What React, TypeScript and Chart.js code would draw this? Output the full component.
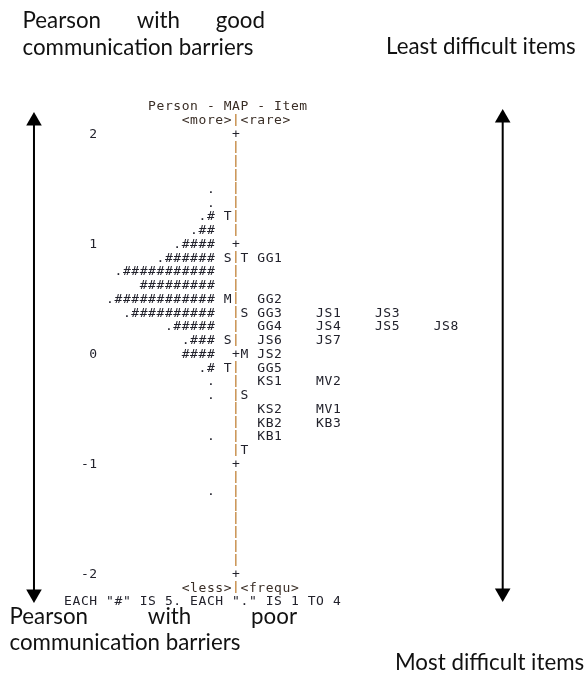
import React, { useEffect, useRef } from "react";
import { Chart, registerables } from "chart.js";

Chart.register(...registerables);

// ---------- data ----------
const axisTicks = [2, 1, 0, -1, -2];
const axisTickLabels = ["2", "1", "0", "-1", "-2"];

const personMeasures = [1.5, 1.375, 1.25, 1.125, 1.0, 0.875, 0.75, 0.625, 0.5, 0.375, 0.25, 0.125, 0, -0.125, -0.25, -0.375, -0.75, -1.25];
const personHashCounts = [0, 0, 1, 2, 4, 6, 11, 9, 12, 10, 5, 3, 4, 1, 0, 0, 0, 0];
const personDotFlags = [1, 1, 1, 1, 1, 1, 1, 0, 1, 1, 1, 1, 0, 1, 1, 1, 1, 1];

const personMarkerLabels = ["T", "S", "M", "S", "T"];
const personMarkerMeasures = [1.25, 0.875, 0.5, 0.125, -0.125];
const itemMarkerLabels = ["T", "S", "M", "S", "T"];
const itemMarkerMeasures = [0.875, 0.375, 0, -0.375, -0.875];

const itemNames = ["GG1", "GG2", "GG3", "JS1", "JS3", "GG4", "JS4", "JS5", "JS8", "JS6", "JS7", "JS2", "GG5", "KS1", "MV2", "KS2", "MV1", "KB2", "KB3", "KB1"];
const itemMeasures = [0.875, 0.5, 0.375, 0.375, 0.375, 0.25, 0.25, 0.25, 0.25, 0.125, 0.125, 0, -0.125, -0.25, -0.25, -0.5, -0.5, -0.625, -0.625, -0.75];

const mapTitle = "Person - MAP - Item";
const topScaleLabels = ["<more>", "<rare>"];
const bottomScaleLabels = ["<less>", "<frequ>"];
const footnote = 'EACH "#" IS 5. EACH "." IS 1 TO 4';

const topLeftNote = ["Pearson", "with", "good"];
const bottomLeftNote = ["Pearson", "with", "poor"];
const noteSecondLine = "communication barriers";
const topRightNote = "Least difficult items";
const bottomRightNote = "Most difficult items";

// ---------- layout / style ----------
const MEASURE_MIN = -2;
const MEASURE_MAX = 2;
const ROW = 0.125;
const X_MIN = -7.095;
const X_MAX = 62.786;
const Y_MAX = 3.212;
const Y_MIN = -2.952;

const PIPE_COL = 21;
const PERSON_END_COL = 18;
const LEFT_MARK_COL = 20;
const RIGHT_MARK_COL = 22;
const ITEM_COL0 = 24;
const ITEM_PITCH = 7;
const TICK_END_COL = 4;
const TITLE_COL = 11;
const SCALE_LABEL_COL = 15;
const FOOT_COL = 1;

const MONO = "13px 'DejaVu Sans Mono', monospace";
const TEXT_COLOR = "#22222c";
const TITLE_COLOR = "#3a2e26";
const PIPE_COLOR = "#cf985a";
const PIPE_FRINGE = "#dcc3a2";
const NOTE_FAMILY = "Lato, 'Open Sans', sans-serif";

const wrightMapPlugin = {
  id: "wrightMap",
  afterDatasetsDraw(chart: any) {
    const ctx: CanvasRenderingContext2D = chart.ctx;
    const xs = chart.scales.x;
    const ys = chart.scales.y;
    const rowPx = Math.abs(ys.getPixelForValue(0) - ys.getPixelForValue(ROW));
    const baseOff = 4.6;

    ctx.save();
    ctx.font = MONO;
    ctx.textAlign = "center";
    ctx.textBaseline = "alphabetic";
    ctx.fillStyle = TEXT_COLOR;

    const drawStr = (s: string, startCol: number, v: number, color = TEXT_COLOR) => {
      const y = ys.getPixelForValue(v) + baseOff;
      ctx.fillStyle = color;
      for (let i = 0; i < s.length; i++) {
        if (s[i] === " ") continue;
        ctx.fillText(s[i], xs.getPixelForValue(startCol + i), y);
      }
      ctx.fillStyle = TEXT_COLOR;
    };
    const drawPipe = (v: number) => {
      const x = Math.round(xs.getPixelForValue(PIPE_COL)) - 1;
      const yc = ys.getPixelForValue(v);
      const top = Math.round(yc - rowPx / 2 + 1);
      const h = Math.round(rowPx - 2);
      ctx.fillStyle = PIPE_COLOR;
      ctx.fillRect(x, top, 1, h);
      ctx.fillStyle = PIPE_FRINGE;
      ctx.fillRect(x + 1, top, 1, h);
      ctx.fillStyle = TEXT_COLOR;
    };

    // vertical ruler
    const nRows = Math.round((MEASURE_MAX - MEASURE_MIN) / ROW);
    for (let k = 0; k <= nRows; k++) {
      const v = MEASURE_MIN + k * ROW;
      if (axisTicks.includes(v)) drawStr("+", PIPE_COL, v);
      else drawPipe(v);
    }

    // tick labels
    axisTicks.forEach((t, i) => {
      const lab = axisTickLabels[i];
      drawStr(lab, TICK_END_COL - lab.length + 1, t);
    });

    // persons
    personMeasures.forEach((m, i) => {
      const s = (personDotFlags[i] ? "." : "") + "#".repeat(personHashCounts[i]);
      drawStr(s, PERSON_END_COL - s.length + 1, m);
    });

    // markers
    personMarkerMeasures.forEach((m, i) => drawStr(personMarkerLabels[i], LEFT_MARK_COL, m));
    itemMarkerMeasures.forEach((m, i) => drawStr(itemMarkerLabels[i], RIGHT_MARK_COL, m));

    // items
    const used: Record<string, number> = {};
    itemMeasures.forEach((m, i) => {
      const key = String(m);
      const idx = used[key] || 0;
      used[key] = idx + 1;
      drawStr(itemNames[i], ITEM_COL0 + idx * ITEM_PITCH, m);
    });

    // headers / footers
    const titleV = MEASURE_MAX + 2 * ROW;
    const topV = MEASURE_MAX + ROW;
    const botV = MEASURE_MIN - ROW;
    const footV = MEASURE_MIN - 2 * ROW;
    drawStr(mapTitle, TITLE_COL, titleV, TITLE_COLOR);
    drawStr(topScaleLabels[0], SCALE_LABEL_COL, topV, TITLE_COLOR);
    drawPipe(topV);
    drawStr(topScaleLabels[1], PIPE_COL + 1, topV, TITLE_COLOR);
    drawStr(bottomScaleLabels[0], SCALE_LABEL_COL, botV, TITLE_COLOR);
    drawPipe(botV);
    drawStr(bottomScaleLabels[1], PIPE_COL + 1, botV, TITLE_COLOR);
    drawStr(footnote, FOOT_COL, footV);

    // side notes
    ctx.font = `100px ${NOTE_FAMILY}`;
    const size = (100 * 231) / ctx.measureText(noteSecondLine).width;
    ctx.font = `${size}px ${NOTE_FAMILY}`;
    ctx.fillStyle = "#111";
    ctx.textAlign = "left";
    const justify = (words: string[], x0: number, x1: number, y: number) => {
      const ws = words.map((w) => ctx.measureText(w).width);
      const gap = (x1 - x0 - ws.reduce((a, b) => a + b, 0)) / (words.length - 1);
      let x = x0;
      words.forEach((w, i) => {
        ctx.fillText(w, x, y);
        x += ws[i] + gap;
      });
    };
    justify(topLeftNote, 22.5, 265, 28);
    ctx.fillText(noteSecondLine, 22.5, 55);
    ctx.fillText(topRightNote, 386, 54);
    justify(bottomLeftNote, 9.5, 297, 624);
    ctx.fillText(noteSecondLine, 9.5, 650);
    ctx.fillText(bottomRightNote, 395, 670);
    ctx.restore();
  },
};

const arrowStyle = {
  showLine: true,
  borderColor: "#000",
  backgroundColor: "#000",
  borderWidth: 2,
  pointStyle: "triangle",
  pointRadius: 9,
  pointBorderWidth: 0,
  pointRotation: (c: any) => (c.dataIndex === 0 ? 0 : 180),
  clip: false,
};

export default function App() {
  const ref = useRef<HTMLCanvasElement>(null);
  useEffect(() => {
    const canvas = ref.current!;
    const chart = new Chart(canvas, {
      type: "scatter",
      data: {
        datasets: [
          { ...arrowStyle, data: [{ x: -3.05, y: 2.112 }, { x: -3.05, y: -2.188 }] } as any,
          { ...arrowStyle, data: [{ x: 52.75, y: 2.139 }, { x: 52.75, y: -2.179 }] } as any,
        ],
      },
      options: {
        animation: false,
        responsive: false,
        events: [],
        layout: { padding: 0, autoPadding: false },
        plugins: { legend: { display: false }, tooltip: { enabled: false } },
        scales: {
          x: { type: "linear", display: false, min: X_MIN, max: X_MAX },
          y: { type: "linear", display: false, min: Y_MIN, max: Y_MAX },
        },
      } as any,
      plugins: [wrightMapPlugin],
    });
    return () => chart.destroy();
  }, []);
  return (
    <div style={{ position: "fixed", left: 0, top: 0, width: 587, height: 678, background: "#fff" }}>
      <canvas ref={ref} width={587} height={678} style={{ display: "block" }} />
    </div>
  );
}
